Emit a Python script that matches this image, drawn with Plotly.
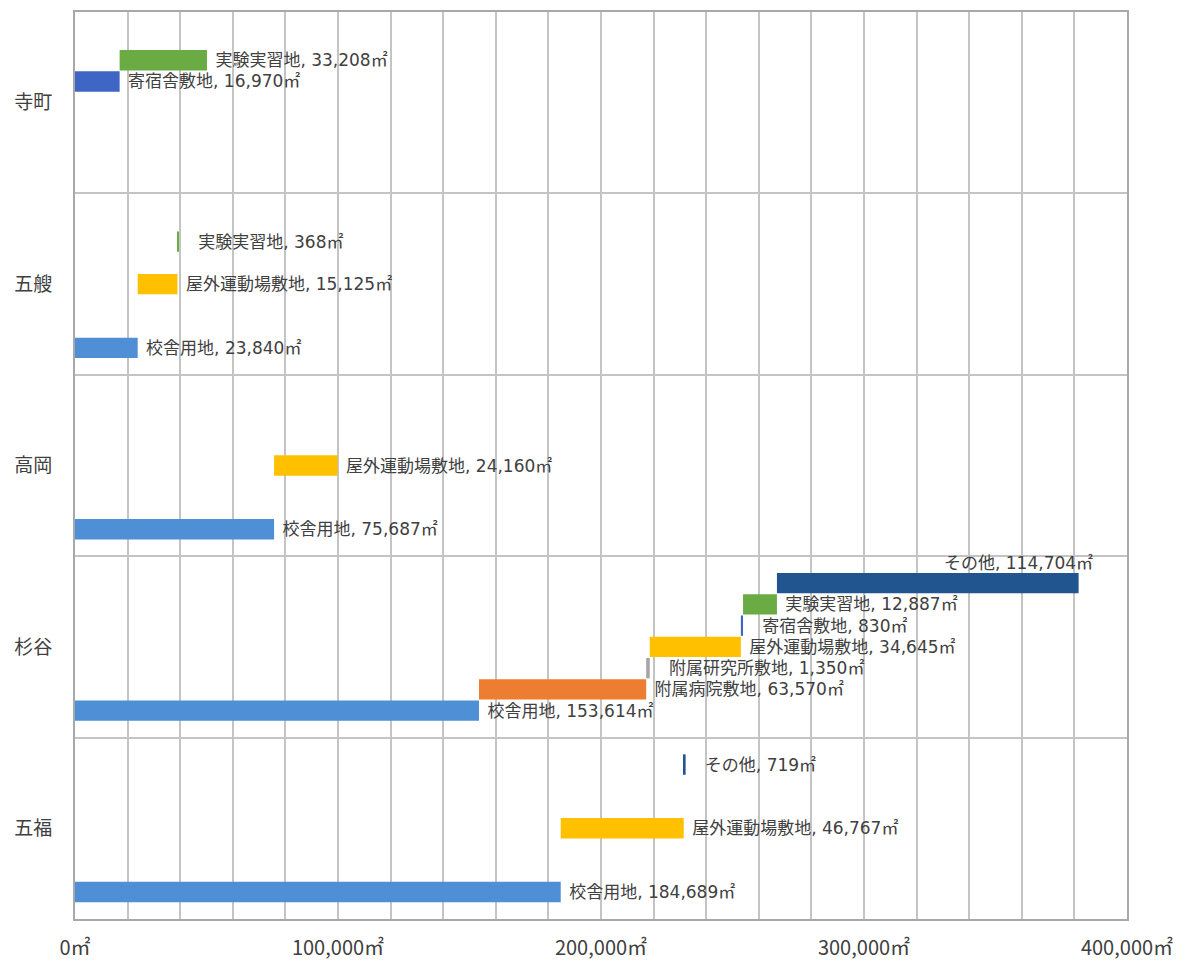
import plotly.graph_objects as go

categories = ['寺町', '五艘', '高岡', '杉谷', '五福']
series_names = ['校舎用地', '附属病院敷地', '附属研究所敷地', '屋外運動場敷地', '寄宿舎敷地', '実験実習地', 'その他']
kousha = [None, 23840, 75687, 153614, 184689]
byoin = [None, None, None, 63570, None]
kenkyu = [None, None, None, 1350, None]
okugai = [None, 15125, 24160, 34645, 46767]
kishuku = [16970, None, None, 830, None]
jikken = [33208, 368, None, 12887, None]
sonota = [None, None, None, 114704, 719]
series_values = [kousha, byoin, kenkyu, okugai, kishuku, jikken, sonota]
colors = ['#4f8fd6', '#ed7d31', '#a5a5a5', '#ffc000', '#3f66c4', '#6aab44', '#21558f']
x_tick_vals = [0, 100000, 200000, 300000, 400000]
x_tick_text = ['0㎡', '100,000㎡', '200,000㎡', '300,000㎡', '400,000㎡']

FONT = 'DejaVu Sans, Noto Sans CJK JP'
CJK = 'Noto Sans CJK JP'
TXT = '#404040'
BARGAP = 0.18
NB = '\u00a0'

fig = go.Figure()
running = [0] * len(categories)
special = None
for k, (name, vals, col) in enumerate(zip(series_names, series_values, colors)):
    bases, xs, texts, pos = [], [], [], []
    for i, v in enumerate(vals):
        bases.append(running[i])
        xs.append(v)
        if v is None:
            texts.append('')
            pos.append('none')
        else:
            pad = NB * (3 if v < 2000 else 1)
            label = f'{name}, {v:,}㎡'
            texts.append(pad + label)
            # the largest remainder label does not fit to the right; place it above
            if running[i] + v > 350000:
                pos.append('none')
                special = (k, i, running[i] + v, label)
            else:
                pos.append('outside')
            running[i] += v
    fig.add_trace(go.Bar(
        y=categories, x=xs, base=bases, orientation='h', name=name,
        marker=dict(color=col, line=dict(width=0)),
        text=texts, textposition=pos, cliponaxis=False, constraintext='none',
        textfont=dict(family=FONT, size=17, color=TXT),
        hoverinfo='skip', showlegend=False,
    ))

cat_order = categories[::-1]
if special is not None:
    k, i, xend, txt = special
    n = len(series_names)
    gw = 1 - BARGAP
    yc = cat_order.index(categories[i]) - gw / 2 + gw / n * (k + 0.5)
    fig.add_annotation(x=xend, y=yc, text=txt, showarrow=False, xanchor='right',
                       yanchor='middle', xshift=16, yshift=20,
                       font=dict(family=FONT, size=17, color=TXT))

fig.update_layout(
    width=1180, height=963,
    margin=dict(l=75, r=53, t=12, b=44, autoexpand=False),
    barmode='group', bargap=BARGAP, bargroupgap=0.04,
    plot_bgcolor='white', paper_bgcolor='white',
    font=dict(family=CJK, color=TXT),
)
fig.update_xaxes(
    range=[0, 400000], tickvals=x_tick_vals, ticktext=x_tick_text,
    showgrid=True, gridcolor='#c4c4c4', gridwidth=2,
    minor=dict(dtick=20000, tick0=0, showgrid=True, gridcolor='#c4c4c4', gridwidth=2),
    showline=True, linecolor='#a8a8a8', linewidth=2, mirror=True,
    ticks='', ticklabelstandoff=10, zeroline=False, automargin=False,
    tickfont=dict(family=CJK, size=20, color=TXT),
)
fig.update_yaxes(
    type='category', categoryorder='array', categoryarray=cat_order,
    tickson='boundaries', showgrid=True, gridcolor='#c4c4c4', gridwidth=2,
    showline=True, linecolor='#a8a8a8', linewidth=2, mirror=True,
    ticks='', ticklabelstandoff=17, automargin=False,
    tickfont=dict(family=CJK, size=19, color=TXT),
)

fig.write_html('out.html')
